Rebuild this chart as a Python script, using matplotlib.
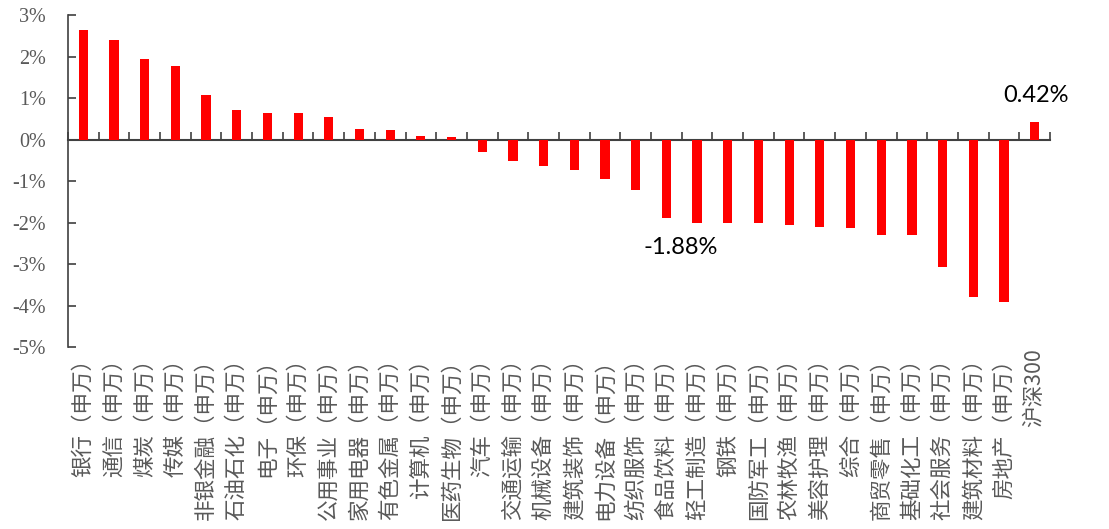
import numpy as np
import matplotlib
matplotlib.use("Agg")
import matplotlib.pyplot as plt
from matplotlib.ticker import FuncFormatter, FixedLocator

# 申万一级行业涨跌幅 + 沪深300
industries = ["银行", "通信", "煤炭", "传媒", "非银金融", "石油石化", "电子", "环保",
              "公用事业", "家用电器", "有色金属", "计算机", "医药生物", "汽车", "交通运输",
              "机械设备", "建筑装饰", "电力设备", "纺织服饰", "食品饮料", "轻工制造", "钢铁",
              "国防军工", "农林牧渔", "美容护理", "综合", "商贸零售", "基础化工", "社会服务",
              "建筑材料", "房地产"]
labels = [s + "（申万）" for s in industries] + ["沪深300"]
returns = [2.65, 2.41, 1.94, 1.78, 1.07, 0.71, 0.65, 0.65, 0.55, 0.25, 0.22, 0.09, 0.05,
           -0.31, -0.51, -0.63, -0.73, -0.95, -1.22, -1.88, -2.00, -2.02, -2.02, -2.06,
           -2.10, -2.14, -2.29, -2.31, -3.08, -3.79, -3.92, 0.42]
yticks = [3, 2, 1, 0, -1, -2, -3, -4, -5]

grey = "#595959"
fig = plt.figure(figsize=(11.09, 5.29), dpi=100)
ax = fig.add_axes([0.0613, 0.344, 0.8855, 0.6276])

x = np.arange(len(labels))
ax.bar(x, returns, width=0.30, color="#FF0000", zorder=3)

ax.set_xlim(-0.5, len(labels) - 0.5)
ax.set_ylim(-5, 3)
ax.set_yticks(yticks)
ax.yaxis.set_major_formatter(FuncFormatter(lambda v, p: f"{v:.0f}%"))
ax.tick_params(axis="y", direction="in", length=6, width=1.2, pad=16,
               labelsize=14.5, labelcolor=grey, color="#404040")
for t in ax.get_yticklabels():
    t.set_family("Liberation Serif")

ax.set_xticks(x)
ax.set_xticklabels(labels, rotation=90, family=["Noto Sans CJK SC", "DejaVu Sans"],
                   fontsize=15.5, color=grey)
ax.tick_params(axis="x", length=0, pad=1)

for s in ["top", "right", "bottom"]:
    ax.spines[s].set_visible(False)
ax.spines["left"].set_color("#404040")
ax.spines["left"].set_linewidth(1.2)

# zero line with category boundary ticks
zero = ax.secondary_xaxis(5 / 8)
zero.xaxis.set_major_locator(FixedLocator(np.arange(len(labels) + 1) - 0.5))
zero.set_xticklabels([])
zero.tick_params(direction="out", length=6, width=1.2, color="#404040")
zero.spines["top"].set_color("#404040")
zero.spines["top"].set_linewidth(1.5)
zero.spines["top"].set_zorder(4)

ax.text(19.45, -2.59, "-1.88%", ha="center", va="center", fontsize=17,
        family="Lato", color="black")
ax.text(31.03, 1.07, "0.42%", ha="center", va="center", fontsize=17,
        family="Lato", color="black")

fig.savefig("out.png", dpi=100)
